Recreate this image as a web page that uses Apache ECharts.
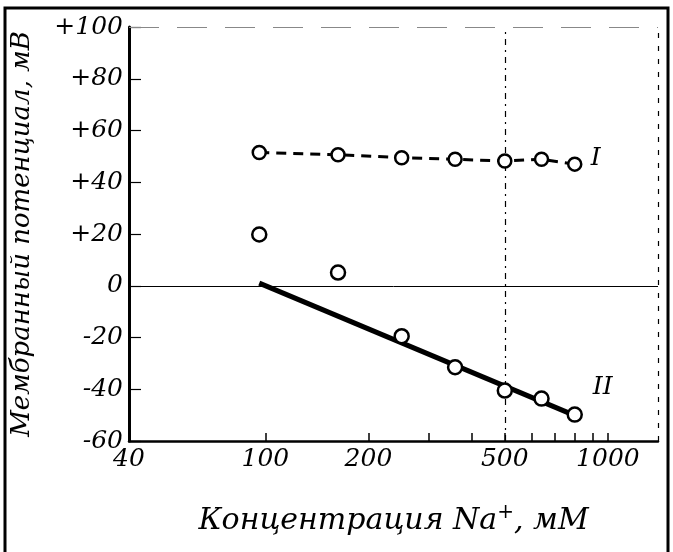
<!DOCTYPE html>
<html><head><meta charset="utf-8">
<script src="https://cdn.jsdelivr.net/npm/echarts@6/dist/echarts.min.js"></script>
<style>html,body{margin:0;padding:0;background:#fff}#c{width:673px;height:552px}</style>
</head><body><div id="c"></div>
<script>
const concI = [96, 163, 250, 358, 500, 640, 800];
const potI = [51.5, 50.6, 49.5, 48.9, 48.2, 48.9, 47.0];
const concII = [96, 163, 250, 358, 500, 640, 800];
const potII = [19.8, 5.1, -19.5, -31.5, -40.5, -43.6, -49.8];
const fitConc = [96, 780];
const fitPot = [1, -49.5];
const xTickLabels = [40, 100, 200, 500, 1000];
const xMinorTicks = [100, 200, 300, 400, 500, 600, 700, 800, 900, 1000];

const font = 'DejaVu Serif';
const chart = echarts.init(document.getElementById('c'));
chart.setOption({
  animation: false,
  backgroundColor: '#fff',
  grid: {left: 129, right: 15, top: 27, bottom: 111, containLabel: false, outerBoundsMode: 'none'},
  graphic: [{
    type: 'rect', shape: {x: 5, y: 8, width: 663, height: 560},
    style: {fill: 'none', stroke: '#000', lineWidth: 3}, silent: true
  }],
  xAxis: {
    type: 'log', min: 40, max: 1400, logBase: 10,
    name: 'Концентрация Na{sup|+}, мМ',
    nameLocation: 'middle', nameGap: 62,
    nameTextStyle: {fontFamily: font, fontStyle: 'italic', fontSize: 30, color: '#000',
      rich: {sup: {fontFamily: font, fontSize: 20, color: '#000', verticalAlign: 'top', padding: [0, 0, 16, 0]}}},
    axisLine: {show: true, onZero: false, lineStyle: {color: '#000', width: 2.5}},
    axisTick: {show: true, inside: true, length: 8, customValues: xMinorTicks, lineStyle: {color: '#000', width: 1.5}},
    axisLabel: {customValues: xTickLabels, fontFamily: font, fontStyle: 'italic', fontSize: 25, color: '#000', margin: 6,
      formatter: v => String(Math.round(v))},
    splitLine: {show: false}, minorTick: {show: false}
  },
  yAxis: {
    type: 'value', min: -60, max: 100, interval: 20,
    name: 'Мембранный потенциал, мВ',
    nameLocation: 'middle', nameGap: 94, nameRotate: 90,
    nameTextStyle: {fontFamily: font, fontStyle: 'italic', fontSize: 26, color: '#000'},
    axisLine: {show: true, onZero: false, lineStyle: {color: '#000', width: 3}},
    axisTick: {show: true, inside: true, length: 12, lineStyle: {color: '#000', width: 1.2}},
    axisLabel: {fontFamily: font, fontStyle: 'italic', fontSize: 25, color: '#000', margin: 6,
      formatter: v => v > 0 ? '+' + v : String(v)},
    splitLine: {show: false}
  },
  series: [
    {
      name: 'I', type: 'line', data: concI.map((c, i) => [c, potI[i]]),
      symbol: 'circle', symbolSize: 13, showAllSymbol: true,
      itemStyle: {color: '#fff', borderColor: '#000', borderWidth: 2.5, opacity: 1},
      lineStyle: {color: '#000', width: 3, type: [10, 7]},
      endLabel: {show: true, formatter: 'I', fontFamily: font, fontStyle: 'italic', fontSize: 25, color: '#000', distance: 16, offset: [0, -6]},
      z: 5,
      markLine: {
        silent: true, symbol: 'none', label: {show: false},
        data: [
          {yAxis: 0, lineStyle: {color: '#000', width: 1, type: 'solid'}},
          {xAxis: 500, lineStyle: {color: '#000', width: 1.2, type: [6, 5, 2, 5]}},
          {xAxis: 1400, lineStyle: {color: '#000', width: 1.2, type: [5, 8]}},
          {yAxis: 100, lineStyle: {color: '#888', width: 1, type: [30, 18]}}
        ]
      }
    },
    {
      name: 'fit', type: 'line', data: fitConc.map((c, i) => [c, fitPot[i]]),
      symbol: 'none', lineStyle: {color: '#000', width: 5}, z: 3
    },
    {
      name: 'II', type: 'scatter', data: concII.map((c, i) => [c, potII[i]]),
      symbol: 'circle', symbolSize: 14,
      itemStyle: {color: '#fff', borderColor: '#000', borderWidth: 2.5, opacity: 1}, z: 6,
      markPoint: {
        symbol: 'circle', symbolSize: 1, itemStyle: {color: 'rgba(0,0,0,0)'},
        label: {show: true, formatter: 'II', fontFamily: font, fontStyle: 'italic', fontSize: 25, color: '#000', offset: [28, -27]},
        data: [{coord: [concII[6], potII[6]]}]
      }
    }
  ]
});
</script></body></html>
